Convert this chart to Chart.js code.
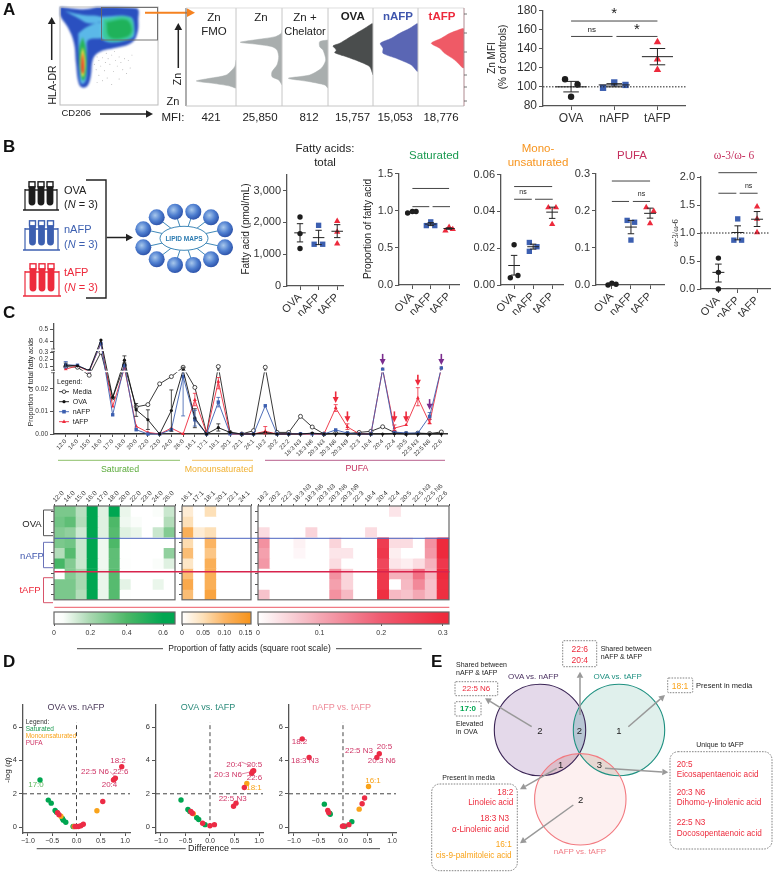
<!DOCTYPE html>
<html>
<head>
<meta charset="utf-8">
<title>Fatty acid figure</title>
<script src="https://cdn.jsdelivr.net/npm/chart.js@4"></script>
<style>
  html, body { margin: 0; background: #fff; }
  #page { position: relative; width: 774px; height: 874px; overflow: hidden; font-family: "Liberation Sans", sans-serif; }
  #page canvas { position: absolute; }
  #overlay { position: absolute; left: 0; top: 0; pointer-events: none; z-index: 10; }
</style>
</head>
<body>
<div id="page"><svg id="overlay" width="774" height="874"></svg></div>
<script>
// ---- data: panel A ----
const groups = ["OVA", "nAFP", "tAFP"];
const znFmoLevel = [17.7, 20, 22.7, 25, 27.7, 31, 39.3, 46];
const znFmoCount = [0.3, 6.3, 23, 39.7, 26.3, 9.7, 1.3, 0];
const znLevel = [21, 26, 29.3, 34.3, 41, 49.3, 56, 59.3, 61.7, 63.7, 66, 69.3, 72.7, 76];
const znCount = [0, 3.3, 10, 10, 5, 3.3, 5, 10, 25, 41.7, 28.3, 6.7, 0.7, 0];
const chelLevel = [17.7, 21, 24.3, 27.7, 31, 37.7, 46, 56, 59.3, 64.3, 66];
const chelCount = [0, 3.3, 18.3, 39.7, 18.3, 6.7, 2.3, 5, 8.3, 8.3, 0];
const ovaLevel = [31, 39.3, 44.3, 49.3, 53.3, 56, 60, 62.7, 67.7, 72.7, 77.7, 82.7];
const ovaCount = [0, 3.3, 13.3, 26.7, 38.3, 36.7, 40, 33.3, 25, 16.7, 8.3, 0.7];
const nafpLevel = [34.3, 41, 47.7, 52.7, 57.7, 62.7, 67.7, 72.7, 77.7, 82.7];
const nafpCount = [0.7, 6.7, 21.7, 35, 35, 37.7, 26.7, 18.3, 8.3, 0.7];
const tafpLevel = [37.7, 46, 52.7, 57.7, 62.7, 67.7, 72.7, 77.7];
const tafpCount = [1, 9.3, 19.3, 24.3, 32.7, 22.7, 14.3, 1];
const mfiLabels = ["421", "25,850", "812", "15,757", "15,053", "18,776"];

const flowBlue = [[0,98.3],[23.3,95.7],[40,98.3],[76.7,96.7],[78.3,85],[77.3,71.7],[71.7,62.3],[53.3,56.7],[40,53.3],[33.3,46.7],[30.7,28.3],[27.3,19],[21.7,17.7],[18.3,23.3],[16,41.7],[14,61.7],[8.3,76.7],[0,90]];
const flowCyanTop = [[5,94],[23.3,90],[40,88.3],[40,83.3],[28.3,81.7],[18.3,86.7]];
const flowCyanStem = [[18.3,71.7],[27.3,78.3],[41.7,81.7],[43.3,68.3],[28.3,65],[27,55],[27,38.3],[25.7,24.3],[22,21],[20,25],[18.7,51.7]];
const flowCyanBox = [[40,88.3],[70,88.3],[74.3,78.3],[71.7,66.7],[43.3,65]];
const flowTeal = [[43,86],[69,87.7],[73.7,76],[69,66.3],[45,65.7]];
const flowGreen = [[46.3,82.7],[66,85.3],[71.7,75],[66,68],[49.7,68]];
const flowStemGreen = [[22.7,68],[25.7,56.7],[26.3,33.7],[23.3,24.3],[20.3,32],[19.3,56.7]];
const flowYellow = [[22.7,58],[25,46.7],[24.7,33.7],[22.7,28],[20.8,35.3],[20.8,48.3]];
const flowRed = [[22.7,53],[23.7,43.3],[23.5,32],[22,32],[21.5,43.3]];
const flowSpeck = [[36,48],[38,44],[42,47],[45,42],[40,38],[35,34],[48,46],[52,50],[50,40],[44,33],[38,28],[56,44],[60,48],[58,38],[54,32],[47,25],[42,22],[36,20],[62,42],[66,46],[70,44],[64,34],[68,30],[60,24],[52,18],[74,50],[33,40],[46,52],[55,54],[72,36]];

const zincVals = [[108, 102.5, 89.6], [99, 104.6, 102], [146.8, 128.6, 117.7]];
const zincJit = [[-0.14, 0.15, 0], [-0.26, 0, 0.26], [0, 0, 0]];
const zincMean = [100, 102, 131.5];
const zincLow = [94.7, 100, 123];
const zincHigh = [105.7, 103.3, 140];
const zincBrackets = [[1, 3, 168.7, "*"], [1, 1.96, 152.6, "ns"], [2.05, 3, 152.6, "*"]];

// ---- data: panel B ----
const totalVals = [[2167, 1646, 1177], [1906, 1312, 1312], [2040, 1700, 1333]];
const totalJit = [[0, 0, 0], [0, -0.24, 0.22], [0, 0, 0]];
const totalMean = [1670, 1520, 1720];
const totalLow = [1385, 1300, 1520];
const totalHigh = [1958, 1750, 1927];

const satVals = [[0.97, 0.99, 0.99], [0.80, 0.85, 0.80], [0.73, 0.78, 0.75]];
const satJit = [[-0.26, 0, 0.2], [-0.24, 0, 0.22], [-0.2, 0, 0.2]];
const satMean = [0.98, 0.82, 0.76];
const satLow = [0.97, 0.80, 0.75];
const satHigh = [0.99, 0.84, 0.77];
const satBrackets = [[1, 3, 1.3, ""], [1, 1.92, 1.055, ""], [2.1, 3.05, 1.055, ""]];

const monoVals = [[0.0219, 0.0039, 0.0052], [0.0231, 0.0183, 0.0208], [0.0421, 0.0421, 0.033]];
const monoJit = [[0, -0.2, 0.2], [-0.2, -0.2, 0.2], [-0.2, 0.2, 0]];
const monoMean = [0.0106, 0.0208, 0.0396];
const monoLow = [0.0054, 0.0195, 0.0362];
const monoHigh = [0.0161, 0.0222, 0.0423];
const monoBrackets = [[1, 3, 0.0535, ""], [1, 1.93, 0.0466, "ns"], [2.1, 3.03, 0.0466, ""]];

const pufaVals = [[0, 0.005, 0.002], [0.174, 0.169, 0.121], [0.209, 0.199, 0.166]];
const pufaJit = [[-0.2, 0, 0.22], [-0.2, 0.19, 0], [-0.2, 0.19, 0]];
const pufaMean = [0.003, 0.156, 0.193];
const pufaLow = [0.001, 0.138, 0.18];
const pufaHigh = [0.005, 0.174, 0.207];
const pufaBrackets = [[1, 3, 0.28, ""], [1, 1.9, 0.225, ""], [2.1, 3, 0.225, "ns"]];

const omegaVals = [[0.552, 0.297, 0], [1.252, 0.872, 0.872], [1.472, 1.252, 1.009]];
const omegaJit = [[0, 0, 0], [0, -0.2, 0.2], [0, 0, 0]];
const omegaMean = [0.297, 1.009, 1.246];
const omegaLow = [0.125, 0.878, 1.116];
const omegaHigh = [0.445, 1.128, 1.383];
const omegaBrackets = [[1, 3, 2.077, ""], [1, 1.93, 1.71, ""], [2.1, 3.03, 1.71, "ns"]];

// ---- data: panel C ----
const satAcids = ["12:0","14:0","15:0","16:0","17:0","18:0","20:0","22:0","23:0","24:0","26:0"];
const monoAcids = ["16:1","17:1","18:1","20:1","22:1","24:1"];
const pufaAcids = ["18:2","20:2","22:2","18:3 N3","18:3 N6","20:3 N3","20:3 N6","20:3 N9","22:3","18:4","20:4","22:4","20:5","22:5 N3","22:5 N6","22:6"];
const allAcids = satAcids.concat(monoAcids, pufaAcids);
const mediaLine = [0.1,0.09,0.026,0.3,0.016,0.12,0.012,0.013,0.0222,0.0254,0.09, 0.0206,0.0005,0.1,0.0007,0,0.0015, 0.09,0.0007,0.0007,0.0078,0.0031,0,0.0004,0.0002,0.0007,0.0012,0.0032,0.0007,0.0002,0.0004,0.0002,0.0009];
const ovaLine = [0.12,0.11,0.044,0.41,0.0162,0.19,0.0107,0.0063,0,0.0104,0.05, 0.0071,0,0.0028,0.0007,0,0, 0.0007,0,0,0,0.0004,0,0.0001,0,0,0,0,0.0001,0,0,0,0];
const nafpLine = [0.123,0.118,0.04,0.38,0.0085,0.115,0.0019,0,0,0.0019,0.0254, 0.0063,0,0.0141,0.0001,0,0, 0.0125,0,0,0.0001,0.0001,0,0.0018,0.0004,0,0,0.062,0.0009,0.0004,0.0004,0.0078,0.08];
const tafpLine = [0.063,0.11,0.03,0.383,0.0122,0.077,0.0034,0.0007,0,0.0026,0, 0.0151,0.0004,0.0232,0,0,0, 0.0012,0,0,0,0,0,0.0115,0.0031,0.0001,0,0.062,0.0026,0.004,0.0159,0.0049,0.08];
const ovaErr = [[0,0.1,0.15],[5,0.15,0.25],[6,0.0078,0.0135],[7,0.002,0.0107],[9,0.0012,0.0195],[10,0.03,0.09],[11,0.0028,0.0112],[13,0.0013,0.0045]];
const nafpErr = [[0,0.08,0.17],[10,0.008,0.03],[11,0.0035,0.0105],[13,0.012,0.0162],[31,0.0065,0.0095]];
const tafpErr = [[11,0.0125,0.018],[13,0.02,0.025],[17,0,0.0033],[23,0.01,0.013],[24,0.002,0.0045],[28,0.0015,0.004],[30,0.0125,0.0205],[31,0.0045,0.0065]];
const lineTicks = [0, 0.01, 0.02, 0.1, 0.2, 0.3, 0.4, 0.5];
// [acid index, tail value on the drawn axis, head value on the drawn axis]
const redArrows = [[23, 128, 93], [24, 68, 35], [28, 68, 35], [29, 68, 35], [30, 178, 145]];
const purpleArrows = [[27, 241, 208], [31, 105, 73], [32, 241, 208]];

// ---- data: heatmaps, one row per sample ----
const satHeat = [
  [0.30,0.30,0.17,0.64,0.10,0.62,0.08,0,0,0.05,0.14],
  [0.32,0.36,0.18,0.64,0.10,0.40,0.07,0.05,0,0,0.18],
  [0.28,0.25,0.13,0.64,0.10,0.38,0.10,0.08,0,0.14,0.28],
  [0.30,0.32,0.14,0.64,0.07,0.40,0.01,0,0,0,0],
  [0.18,0.38,0.14,0.64,0.07,0.36,0.01,0,0,0,0.25],
  [0.42,0.28,0.14,0.64,0.07,0.36,0.02,0,0,0.05,0.10],
  [0,0.28,0.20,0.64,0.08,0.38,0.01,0,0,0,0],
  [0.30,0.30,0.20,0.64,0.08,0.38,0.09,0,0,0.08,0],
  [0.30,0.30,0.18,0.64,0.08,0.38,0.02,0,0,0,0]
];
const monoHeat = [
  [0.03,0,0.05,0,0,0],
  [0.05,0,0,0,0,0],
  [0.11,0.03,0.05,0,0,0],
  [0.055,0,0.10,0,0,0],
  [0.09,0,0.08,0,0,0],
  [0.04,0,0.11,0,0,0],
  [0.09,0,0.11,0,0,0],
  [0.12,0,0.11,0,0,0],
  [0.09,0,0.13,0,0,0]
];
const pufaHeat = [
  [0,0,0,0,0,0,0,0,0,0,0,0.03,0,0,0,0],
  [0,0,0,0,0,0,0,0,0,0,0,0,0,0,0,0],
  [0.04,0,0,0,0.05,0,0,0,0,0.04,0,0,0,0,0,0],
  [0.13,0,0,0.015,0,0,0.05,0,0,0,0.26,0.04,0.04,0,0.13,0.30],
  [0.11,0,0,0.01,0,0,0.03,0.03,0,0,0.27,0.02,0,0,0.12,0.30],
  [0.12,0,0,0,0,0,0.04,0,0,0,0.24,0.03,0.02,0.04,0.09,0.27],
  [0,0,0,0,0,0,0.13,0.05,0,0,0.27,0.09,0.09,0.17,0.08,0.31],
  [0,0,0,0,0,0,0.11,0.05,0,0,0.27,0,0.08,0.14,0.07,0.29],
  [0.07,0,0,0,0,0,0.13,0.08,0,0,0.29,0.08,0.07,0.10,0.07,0.29]
];
const satStops = [[0, 255,255,255], [0.05, 250,253,250], [0.2, 168,216,176], [0.4, 77,184,104], [0.6, 0,166,81]];
const monoStops = [[0, 255,255,255], [0.05, 253,224,184], [0.1, 251,180,99], [0.16, 247,148,29]];
const pufaStops = [[0, 255,255,255], [0.1, 244,168,180], [0.2, 239,90,112], [0.3, 238,42,60]];

// ---- data: panel D ----
const v1GreenX = [-0.75,-0.58,-0.52,-0.44,-0.41,-0.29,-0.27,-0.22,-0.07];
const v1GreenY = [2.83,1.62,1.44,1.0,0.9,0.52,0.42,0.29,0.04];
const v1OrangeX = [0.42,-0.32,-0.05];
const v1OrangeY = [0.98,0.65,0.04];
const v1RedX = [0.93,0.8,0.76,0.78,0.54,-0.39,-0.36,0,0.04,0.09,0.14,-0.03];
const v1RedY = [3.62,2.94,2.83,2.88,1.54,0.87,0.75,0.04,0.04,0.08,0.17,0.04];
const v2GreenX = [-0.59,-0.45,-0.41,-0.27,-0.23,-0.1];
const v2GreenY = [1.63,1.06,0.94,0.56,0.46,0.15];
const v2OrangeX = [-0.34,0.75];
const v2OrangeY = [0.81,2.62];
const v2RedX = [-0.39,-0.36,-0.15,0,0.09,0.48,0.53,0.7,0.85,0.87,0.89];
const v2RedY = [0.94,0.83,0.23,0.08,0.15,1.25,1.44,2.38,3.23,3.35,3.38];
const v3GreenX = [-0.38,-0.27,-0.26,0.18,0.04];
const v3GreenY = [1.38,0.83,0.77,0.33,0.06];
const v3OrangeX = [0.33,0.52];
const v3OrangeY = [1.08,2.44];
const v3RedX = [-0.83,-0.69,-0.31,-0.29,0.44,0.39,0.69,0.74,0.12,0.02,-0.01];
const v3RedY = [5.29,4.17,1.0,0.87,1.75,1.4,4.17,4.4,0.15,0.06,0.06];

const BLACK = "#1d1d1d", BLUE = "#3c5fb0", RED = "#ed2a3c", GREEN = "#00a651", ORANGE = "#f9a31a", PINK = "#cf3566", AXIS = "#555";

Chart.defaults.font.family = '"Liberation Sans", sans-serif';
Chart.defaults.color = "#333";
Chart.defaults.animation = false;
Chart.defaults.responsive = false;
Chart.defaults.plugins.legend.display = false;
Chart.defaults.plugins.tooltip.enabled = false;

const page = document.getElementById("page");

// canvas big enough for the plot box plus margins, chart area pinned to the box
function makeChart(box, m, config) {
  const c = document.createElement("canvas");
  const w = box[2] - box[0] + m.l + m.r, h = box[3] - box[1] + m.t + m.b;
  c.width = w; c.height = h;
  c.style.left = (box[0] - m.l) + "px";
  c.style.top = (box[1] - m.t) + "px";
  page.appendChild(c);
  config.options = config.options || {};
  config.options.devicePixelRatio = 1;
  config.options.layout = { padding: { top: m.topAxis ? 0 : m.t, right: m.r, left: 0, bottom: 0 } };
  const sc = config.options.scales;
  sc.x.afterFit = s => { s.height = m.topAxis ? m.t : m.b; };
  sc.y.afterFit = s => { s.width = m.l; };
  return { canvas: c, chart: new Chart(c, config) };
}

function axisX(min, max, tickVals, fmt, size, rot, extra) {
  return Object.assign({
    type: "linear", min: min, max: max,
    border: { color: AXIS, width: 1.3 },
    grid: { drawOnChartArea: false, color: AXIS, tickLength: 4 },
    afterBuildTicks: a => { a.ticks = tickVals.map(v => ({ value: v })); },
    ticks: { autoSkip: false, minRotation: rot, maxRotation: rot, padding: 1, font: { size: size }, callback: fmt }
  }, extra || {});
}
function axisY(min, max, tickVals, fmt, size) {
  return {
    type: "linear", min: min, max: max,
    border: { color: AXIS, width: 1.3 },
    grid: { drawOnChartArea: false, color: AXIS, tickLength: 4 },
    afterBuildTicks: a => { a.ticks = tickVals.map(v => ({ value: v })); },
    ticks: { autoSkip: false, padding: 2, font: { size: size }, callback: fmt }
  };
}

// mean +/- SEM, significance brackets and dotted reference
function statsPlugin(mean, low, high, brackets, refY, halfMean, halfCap, sizes) {
  return {
    id: "stats",
    afterDatasetsDraw(chart) {
      const { ctx, scales: { x, y }, chartArea: a } = chart;
      ctx.save();
      ctx.strokeStyle = "#222"; ctx.fillStyle = "#222"; ctx.lineWidth = 1;
      if (refY !== null) {
        ctx.setLineDash([1.5, 1.5]);
        ctx.beginPath(); ctx.moveTo(a.left, y.getPixelForValue(refY)); ctx.lineTo(a.right, y.getPixelForValue(refY)); ctx.stroke();
        ctx.setLineDash([]);
      }
      mean.forEach((m, i) => {
        const dx = i + 1;
        const seg = (x1, v1, x2, v2) => {
          ctx.beginPath();
          ctx.moveTo(x.getPixelForValue(x1), y.getPixelForValue(v1));
          ctx.lineTo(x.getPixelForValue(x2), y.getPixelForValue(v2));
          ctx.stroke();
        };
        seg(dx - halfMean, m, dx + halfMean, m);
        seg(dx, low[i], dx, high[i]);
        seg(dx - halfCap, low[i], dx + halfCap, low[i]);
        seg(dx - halfCap, high[i], dx + halfCap, high[i]);
      });
      ctx.strokeStyle = "#444";
      ctx.textAlign = "center";
      (brackets || []).forEach(b => {
        const py = y.getPixelForValue(b[2]), x1 = x.getPixelForValue(b[0]), x2 = x.getPixelForValue(b[1]);
        ctx.beginPath(); ctx.moveTo(x1, py); ctx.lineTo(x2, py); ctx.stroke();
        if (b[3] === "ns") {
          ctx.font = sizes.ns + 'px "Liberation Sans"';
          ctx.textBaseline = "middle";
          ctx.fillText("ns", (x1 + x2) / 2, py - 7);
        } else if (b[3] === "*") {
          ctx.font = sizes.star + 'px "Liberation Sans"';
          ctx.textBaseline = "middle";
          ctx.fillText("*", (x1 + x2) / 2, py - 7);
        }
      });
      ctx.restore();
    }
  };
}

function dotPlot(box, m, xr, yr, yTicks, yFmt, vals, jit, mean, low, high, brackets, refY, o) {
  const styles = [["circle", BLACK, o.r], ["rect", BLUE, o.r * 1.4], ["triangle", RED, o.r * 1.35]];
  const datasets = vals.map((g, i) => ({
    data: g.map((v, j) => ({ x: i + 1 + jit[i][j], y: v })),
    pointStyle: styles[i][0], pointBackgroundColor: styles[i][1], pointBorderColor: styles[i][1],
    pointRadius: styles[i][2], pointBorderWidth: 0, showLine: false, clip: false
  }));
  makeChart(box, m, {
    type: "scatter",
    data: { datasets: datasets },
    options: {
      scales: {
        x: axisX(xr[0], xr[1], [1, 2, 3], v => groups[v - 1], o.xSize, o.rot),
        y: axisY(yr[0], yr[1], yTicks, yFmt, o.ySize)
      }
    },
    plugins: [statsPlugin(mean, low, high, brackets, refY, o.hm, o.hc, { ns: o.ns, star: 15 })]
  });
}

// ---- panel A histograms ----
function histogram(box, levels, counts, color) {
  makeChart(box, { l: 0, r: 0, t: 0, b: 0 }, {
    type: "line",
    data: { datasets: [{
      data: levels.map((v, i) => ({ x: counts[i], y: v })),
      borderColor: color, backgroundColor: color, borderWidth: 0.5, pointRadius: 0, fill: "origin", tension: 0.25
    }] },
    options: {
      indexAxis: "y",
      scales: {
        x: { type: "linear", reverse: true, min: 0, max: box[2] - box[0], display: false },
        y: { type: "linear", min: 0, max: 98, display: false }
      }
    }
  });
}
histogram([186, 8, 236, 106], znFmoLevel, znFmoCount, "#a9aeae");
histogram([236, 8, 282, 106], znLevel, znCount, "#a9aeae");
histogram([282, 8, 328, 106], chelLevel, chelCount, "#a9aeae");
histogram([328, 8, 373, 106], ovaLevel, ovaCount, "#4a4d4d");
histogram([373, 8, 418, 106], nafpLevel, nafpCount, "#5a66b4");
histogram([418, 8, 464, 106], tafpLevel, tafpCount, "#ef5a66");

// flow plot: density contours as filled shapes
function blob(points, color) {
  return { data: points.map(p => ({ x: p[0], y: p[1] })), showLine: true, fill: "shape", tension: 0.4,
    borderColor: color, backgroundColor: color, borderWidth: 0, pointRadius: 0 };
}
// close each contour so the fill and the smoothing meet up
function closed(points) { return points.concat([points[0]]); }
const flowScales = () => ({
  x: { type: "linear", min: 0, max: 98, display: false },
  y: { type: "linear", min: 0, max: 98, display: false }
});
makeChart([60, 7, 158, 105], { l: 0, r: 0, t: 0, b: 0 }, {
  type: "scatter",
  data: { datasets: [{ data: flowSpeck.map(p => ({ x: p[0], y: p[1] })), pointRadius: 0.45, pointBackgroundColor: "#888", pointBorderWidth: 0, showLine: false }] },
  options: { scales: flowScales() }
});
const flow = makeChart([60, 7, 158, 105], { l: 0, r: 0, t: 0, b: 0 }, {
  type: "scatter",
  data: { datasets: [
    blob(closed(flowRed), "#e8262a"),
    blob(closed(flowYellow), "#f5e642"),
    blob(closed(flowStemGreen), "#27b45a"),
    blob(closed(flowGreen), "#1fb25a"),
    blob(closed(flowTeal), "#3cc99a"),
    blob(closed(flowCyanBox), "#5bc4e8"),
    blob(closed(flowCyanStem), "#5bb8e8"),
    blob(closed(flowCyanTop), "#5bb8e8"),
    blob(closed(flowBlue), "#2a50c0")
  ] },
  options: { scales: flowScales() }
});
flow.canvas.style.filter = "blur(1.2px)";

// ---- dot plots ----
dotPlot([542.7, 9.3, 686, 106.7], { l: 32, r: 4, t: 8, b: 22 }, [0.35, 3.65], [80, 180], [80, 100, 120, 140, 160, 180], v => v,
  zincVals, zincJit, zincMean, zincLow, zincHigh, zincBrackets, 100,
  { r: 3.2, xSize: 12, ySize: 12, rot: 0, hm: 0.36, hc: 0.18, ns: 8 });
dotPlot([287.3, 174, 347, 286], { l: 38, r: 2, t: 8, b: 30 }, [0.3, 3.35], [0, 3500], [0, 1000, 2000, 3000],
  v => v === 0 ? "0" : v.toLocaleString("en-US"),
  totalVals, totalJit, totalMean, totalLow, totalHigh, [], null,
  { r: 2.7, xSize: 11, ySize: 11, rot: 45, hm: 0.31, hc: 0.17, ns: 7 });
dotPlot([399.3, 173.3, 462, 285.7], { l: 22, r: 2, t: 8, b: 30 }, [0.27, 3.54], [0, 1.5], [0, 0.5, 1, 1.5], v => v.toFixed(1),
  satVals, satJit, satMean, satLow, satHigh, satBrackets, null,
  { r: 2.7, xSize: 11, ySize: 11, rot: 45, hm: 0.31, hc: 0.17, ns: 7 });
dotPlot([500.7, 174, 565, 285.7], { l: 30, r: 2, t: 8, b: 30 }, [0.31, 3.57], [0, 0.06], [0, 0.02, 0.04, 0.06], v => v.toFixed(2),
  monoVals, monoJit, monoMean, monoLow, monoHigh, monoBrackets, null,
  { r: 2.7, xSize: 11, ySize: 11, rot: 45, hm: 0.31, hc: 0.17, ns: 7 });
dotPlot([596, 173.3, 666, 285.7], { l: 24, r: 2, t: 8, b: 30 }, [0.17, 3.73], [0, 0.3], [0, 0.1, 0.2, 0.3], v => v.toFixed(1),
  pufaVals, pufaJit, pufaMean, pufaLow, pufaHigh, pufaBrackets, null,
  { r: 2.7, xSize: 11, ySize: 11, rot: 45, hm: 0.31, hc: 0.17, ns: 7 });
dotPlot([700.7, 177, 771, 289.3], { l: 22, r: 3, t: 10, b: 28 }, [0.1, 3.67], [0, 2], [0, 0.5, 1, 1.5, 2], v => v.toFixed(1),
  omegaVals, omegaJit, omegaMean, omegaLow, omegaHigh, omegaBrackets, 1,
  { r: 2.7, xSize: 11, ySize: 11, rot: 45, hm: 0.31, hc: 0.17, ns: 7 });

// ---- panel C line chart, broken y axis ----
function brokenY(v) {
  if (v <= 0.0276) return v * 6800;
  if (v <= 0.33) return 403 - (221.4 - 214 * v);
  return 403 - (124 - (v - 0.4) * 350);
}
const lineDataset = (vals, color, style, radius, open) => ({
  data: vals.map((v, i) => ({ x: i, y: brokenY(v) })),
  showLine: true, borderColor: color, borderWidth: 0.9, pointStyle: style, pointRadius: radius,
  pointBackgroundColor: open ? "#fff" : color, pointBorderColor: color, pointBorderWidth: open ? 0.8 : 0, clip: false
});
const lineExtras = {
  id: "lineExtras",
  afterDatasetsDraw(chart) {
    const { ctx, scales: { x, y }, chartArea: a } = chart;
    ctx.save();
    ctx.lineWidth = 0.8;
    [[ovaErr, "#222"], [nafpErr, BLUE], [tafpErr, RED]].forEach(s => {
      ctx.strokeStyle = s[1];
      s[0].forEach(e => {
        const px = x.getPixelForValue(e[0]), p1 = y.getPixelForValue(brokenY(e[1])), p2 = y.getPixelForValue(brokenY(e[2]));
        ctx.beginPath();
        ctx.moveTo(px, p1); ctx.lineTo(px, p2);
        ctx.moveTo(px - 2, p1); ctx.lineTo(px + 2, p1);
        ctx.moveTo(px - 2, p2); ctx.lineTo(px + 2, p2);
        ctx.stroke();
      });
    });
    // breaks of the y axis
    [brokenY(0.03), brokenY(0.33)].forEach(b => {
      const py = y.getPixelForValue(b);
      ctx.fillStyle = "#fff";
      ctx.fillRect(a.left - 3, py - 0.8, a.right - a.left + 3, 1.6);
      ctx.strokeStyle = AXIS;
      ctx.beginPath();
      ctx.moveTo(a.left - 3, py - 1.2); ctx.lineTo(a.left + 1, py - 1.2);
      ctx.moveTo(a.left - 3, py + 1.2); ctx.lineTo(a.left + 1, py + 1.2);
      ctx.stroke();
    });
    // arrows marking the fatty acids of interest
    [[redArrows, RED], [purpleArrows, "#7b2d8e"]].forEach(s => {
      ctx.strokeStyle = s[1]; ctx.fillStyle = s[1]; ctx.lineWidth = 1.6;
      s[0].forEach(r => {
        const px = x.getPixelForValue(r[0]), p1 = y.getPixelForValue(r[1]), p2 = y.getPixelForValue(r[2]);
        ctx.beginPath(); ctx.moveTo(px, p1); ctx.lineTo(px, p2 - 4); ctx.stroke();
        ctx.beginPath(); ctx.moveTo(px - 3, p2 - 6); ctx.lineTo(px + 3, p2 - 6); ctx.lineTo(px, p2); ctx.closePath(); ctx.fill();
      });
    });
    ctx.restore();
  }
};
makeChart([54.3, 324, 450.7, 434.3], { l: 26, r: 2, t: 6, b: 24 }, {
  type: "scatter",
  data: { datasets: [
    lineDataset(ovaLine, "#111", "circle", 1.6, false),
    lineDataset(nafpLine, BLUE, "rect", 2.4, false),
    lineDataset(tafpLine, RED, "triangle", 2.2, false),
    lineDataset(mediaLine, "#222", "circle", 2, true)
  ] },
  options: { scales: {
    x: axisX(-1, 32.5, allAcids.map((a, i) => i), v => allAcids[v], 6, 45,
      { grid: { drawOnChartArea: false, color: AXIS, tickLength: 3 }, border: { color: "#333", width: 1.5 } }),
    y: axisY(0, 331, lineTicks.map(brokenY), (v, i) => lineTicks[i] === 0 ? "0.00" : lineTicks[i] < 0.05 ? lineTicks[i].toFixed(2) : lineTicks[i].toFixed(1), 6.5)
  } },
  plugins: [lineExtras]
});

// ---- heatmaps ----
function colorAt(stops, v) {
  for (let i = 1; i < stops.length; i++) {
    if (v <= stops[i][0]) {
      const a = stops[i - 1], b = stops[i], t = (v - a[0]) / (b[0] - a[0]);
      return "rgb(" + [1, 2, 3].map(k => Math.round(a[k] + (b[k] - a[k]) * t)).join(",") + ")";
    }
  }
  const e = stops[stops.length - 1];
  return "rgb(" + e[1] + "," + e[2] + "," + e[3] + ")";
}
const frameBox = { id: "frameBox", afterDraw(chart) {
  const { ctx, chartArea: a } = chart;
  ctx.save(); ctx.strokeStyle = "#666"; ctx.lineWidth = 1.2;
  ctx.strokeRect(a.left, a.top, a.right - a.left, a.bottom - a.top);
  ctx.restore();
} };
function heatmap(box, acids, rows, stops) {
  makeChart(box, { l: 5, r: 4, t: 26, b: 0, topAxis: true }, {
    type: "bar",
    data: {
      labels: acids,
      datasets: rows.map(row => ({
        data: acids.map(() => 1),
        backgroundColor: row.map(v => colorAt(stops, v)),
        barPercentage: 1, categoryPercentage: 1, borderWidth: 0, stack: "s"
      }))
    },
    options: { scales: {
      x: { type: "category", position: "top", stacked: true, border: { display: false },
        grid: { drawOnChartArea: false, color: AXIS, tickLength: 2 },
        ticks: { autoSkip: false, minRotation: 45, maxRotation: 45, padding: 0, font: { size: 6.5 } } },
      y: { type: "linear", stacked: true, reverse: true, min: 0, max: 9, border: { display: false },
        grid: { drawOnChartArea: false, color: AXIS, tickLength: 3 },
        afterBuildTicks: a => { a.ticks = [0.5, 1.5, 2.5, 3.5, 4.5, 5.5, 6.5, 7.5, 8.5].map(v => ({ value: v })); },
        ticks: { callback: () => "", padding: 0, autoSkip: false } }
    } },
    plugins: [frameBox]
  });
}
heatmap([54.3, 505.7, 175.3, 607], satAcids, satHeat, satStops);
heatmap([181.7, 505.7, 250.7, 607], monoAcids, monoHeat, monoStops);
heatmap([258, 505.7, 449.3, 607], pufaAcids, pufaHeat, pufaStops);

function colorbar(box, max, tickVals, fmt, stops) {
  makeChart(box, { l: 6, r: 6, t: 2, b: 14 }, {
    type: "scatter",
    data: { datasets: [] },
    options: { scales: {
      x: { type: "linear", min: 0, max: max, border: { display: false },
        grid: { drawOnChartArea: false, color: AXIS, tickLength: 2 },
        afterBuildTicks: a => { a.ticks = tickVals.map(v => ({ value: v })); },
        ticks: { autoSkip: false, maxRotation: 0, padding: 3, font: { size: 7 }, callback: fmt } },
      y: { type: "linear", min: 0, max: 1, display: false }
    } },
    plugins: [{ id: "ramp", beforeDatasetsDraw(chart) {
      const { ctx, chartArea: a, scales: { x } } = chart;
      const g = ctx.createLinearGradient(a.left, 0, a.right, 0);
      const n = 40;
      for (let i = 0; i <= n; i++) g.addColorStop(i / n, colorAt(stops, x.getValueForPixel(a.left + (a.right - a.left) * i / n)));
      ctx.save(); ctx.fillStyle = g; ctx.fillRect(a.left, a.top, a.right - a.left, a.bottom - a.top); ctx.restore();
    } }, frameBox]
  });
}
colorbar([54.3, 612.3, 175.3, 624.3], 0.666, [0, 0.2, 0.4, 0.6], v => v === 0 ? "0" : v.toFixed(1), satStops);
colorbar([181.7, 612.3, 250.7, 624.3], 0.163, [0, 0.05, 0.1, 0.15], v => v === 0 ? "0" : v.toFixed(2), monoStops);
colorbar([258, 612.3, 449.3, 624.3], 0.31, [0, 0.1, 0.2, 0.3], v => v === 0 ? "0" : v.toFixed(1), pufaStops);

// ---- panel D volcano plots ----
function volcano(box, xMax, gx, gy, ox, oy, rx, ry) {
  const pts = (xs, ys, color) => ({
    data: xs.map((v, i) => ({ x: v, y: ys[i] })), showLine: false, pointRadius: 2.7,
    pointBackgroundColor: color, pointBorderWidth: 0
  });
  const dash = d => ({ data: d, showLine: true, borderColor: "#444", borderWidth: 1, borderDash: [4, 3], pointRadius: 0 });
  makeChart(box, { l: 12, r: 4, t: 2, b: 14 }, {
    type: "scatter",
    data: { datasets: [
      pts(rx, ry, "#ec2b45"), pts(ox, oy, ORANGE), pts(gx, gy, GREEN),
      dash([{ x: -1.1, y: 2 }, { x: xMax, y: 2 }]),
      dash([{ x: 0, y: 0 }, { x: 0, y: 6.3 }])
    ] },
    options: { scales: {
      x: axisX(-1.1, xMax, [-1, -0.5, 0, 0.5, 1], v => v.toFixed(1).replace("-", "\u2212"), 7, 0,
        { grid: { drawOnChartArea: false, color: AXIS, tickLength: 3 } }),
      y: axisY(-0.35, 7.35, [0, 2, 4, 6], v => v, 7.5)
    } }
  });
}
volcano([22.7, 700, 130.7, 833.3], 1.1, v1GreenX, v1GreenY, v1OrangeX, v1OrangeY, v1RedX, v1RedY);
volcano([156, 700, 263.3, 833.3], 1.08, v2GreenX, v2GreenY, v2OrangeX, v2OrangeY, v2RedX, v2RedY);
volcano([289, 700, 396.7, 833.3], 1.08, v3GreenX, v3GreenY, v3OrangeX, v3OrangeY, v3RedX, v3RedY);

// ---- everything that is not a data mark: text, icons, Venn ----
const parts = [];
function txt(x, y, s, size, color, o) {
  o = o || {};
  const rot = o.rot ? ' transform="rotate(' + o.rot + " " + x + " " + y + ')"' : "";
  parts.push('<text x="' + x + '" y="' + y + '" font-size="' + size + '" fill="' + (color || "#222") +
    '" text-anchor="' + (o.a || "middle") + '" dominant-baseline="central" font-weight="' + (o.w || "normal") +
    '" font-style="' + (o.i || "normal") + '" font-family="' + (o.f || "Liberation Sans") + '"' + rot + ">" + s + "</text>");
}
function ln(x1, y1, x2, y2, c, w, dash) {
  parts.push('<line x1="' + x1 + '" y1="' + y1 + '" x2="' + x2 + '" y2="' + y2 + '" stroke="' + c + '" stroke-width="' + (w || 1) + '"' + (dash ? ' stroke-dasharray="' + dash + '"' : "") + "/>");
}
function arrow(x1, y1, x2, y2, c, w, head) {
  const a = Math.atan2(y2 - y1, x2 - x1), h = head || 6;
  const bx = x2 - Math.cos(a) * h, by = y2 - Math.sin(a) * h;
  ln(x1, y1, bx, by, c, w);
  const px = -Math.sin(a) * h * 0.55, py = Math.cos(a) * h * 0.55;
  parts.push('<polygon points="' + x2 + "," + y2 + " " + (bx + px) + "," + (by + py) + " " + (bx - px) + "," + (by - py) + '" fill="' + c + '"/>');
}
function bracket(x1, x2, y1, y2, c, w) {
  parts.push('<polyline points="' + x2 + "," + y1 + " " + x1 + "," + y1 + " " + x1 + "," + y2 + " " + x2 + "," + y2 + '" fill="none" stroke="' + c + '" stroke-width="' + (w || 1) + '"/>');
}
function dashedBox(x1, y1, x2, y2, r) {
  parts.push('<rect x="' + x1 + '" y="' + y1 + '" width="' + (x2 - x1) + '" height="' + (y2 - y1) + '" rx="' + (r || 1) + '" fill="none" stroke="#666" stroke-width="0.8" stroke-dasharray="1.6,1.2"/>');
}

// panel letters
[["A", 3, 9], ["B", 3, 146], ["C", 3, 312], ["D", 3, 661], ["E", 431, 661]].forEach(p => txt(p[1], p[2], p[0], 17, "#111", { a: "start", w: "bold" }));

// panel A
parts.push('<rect x="60" y="7" width="98" height="98" fill="none" stroke="#bbb" stroke-width="1"/>');
parts.push('<rect x="101.5" y="7.5" width="56" height="32.5" fill="none" stroke="#666" stroke-width="0.9"/>');
arrow(145, 12.7, 195, 12.7, "#f58220", 2, 8);
arrow(51.7, 60, 51.7, 17, "#222", 1.5, 7);
txt(52, 85, "HLA-DR", 10.5, "#222", { rot: -90 });
txt(61.5, 112, "CD206", 9.5, "#222", { a: "start" });
arrow(100, 114, 153, 114, "#222", 1.5, 7);
arrow(178.3, 68, 178.3, 23, "#222", 1.5, 7);
txt(176.7, 79, "Zn", 10.5, "#222", { rot: -90 });
txt(173, 101, "Zn", 11, "#222");
txt(173, 117, "MFI:", 11.5, "#222");
[186, 236, 282, 328, 373, 418].forEach((x, i) => ln(x, 8, x, 106, i === 0 ? "#777" : "#c6c6c6", i === 0 ? 1.2 : 1));
ln(186, 8, 464, 8, "#d0d0d0", 0.7);
ln(186, 106, 464, 106, "#c6c6c6", 1);
ln(464, 8, 464, 106, "#b08a90", 1);
[14, 33, 52, 75, 87, 101].forEach(y => ln(464, y, 467, y, "#555", 0.8));
txt(214, 16.7, "Zn", 11.5); txt(214, 30.7, "FMO", 11.5);
txt(261, 16.7, "Zn", 11.5);
txt(305, 16.7, "Zn +", 11.5); txt(305, 30.7, "Chelator", 11);
txt(352.7, 16, "OVA", 11.5, "#222", { w: "bold" });
txt(398, 16, "nAFP", 11.5, "#3f56ad", { w: "bold" });
txt(442, 16, "tAFP", 11.5, "#ed2a3c", { w: "bold" });
[211, 260, 309, 352.7, 395, 441].forEach((x, i) => txt(x, 116.7, mfiLabels[i], 11.5));
txt(491.7, 58, "Zn MFI", 10, "#222", { rot: -90 });
txt(502.7, 57, "(% of controls)", 10, "#222", { rot: -90 });

// panel B: tube racks
function rack(x, y, w, h, c) {
  ln(x, y + h, x + w, y + h, c, 1.6);
  ln(x + 2, y + 8, x + 2, y + h, c, 1.2);
  ln(x + w - 2, y + 8, x + w - 2, y + h, c, 1.2);
  ln(x + 2, y + 9, x + w - 2, y + 9, c, 1.4);
  for (let i = 0; i < 3; i++) {
    const tx = x + w / 2 - 9 + i * 9;
    parts.push('<path d="M' + (tx - 3.4) + "," + (y + 5) + " V" + (y + h - 8) + " a3.4,3.4 0 0 0 6.8,0 V" + (y + 5) + ' Z" fill="' + c + '"/>');
    parts.push('<rect x="' + (tx - 3) + '" y="' + (y + 0.8) + '" width="6" height="5" fill="#fff" stroke="' + c + '" stroke-width="1.4"/>');
  }
}
rack(23, 181, 36, 29, "#1d1d1d");
rack(23, 220, 37, 30, BLUE);
rack(23, 263, 38, 33, "#ed2a3c");
txt(64, 190, "OVA", 11, "#222", { a: "start" });
txt(64, 204, '(<tspan font-style="italic">N</tspan> = 3)', 11, "#222", { a: "start" });
txt(64, 229, "nAFP", 11, BLUE, { a: "start" });
txt(64, 244, '(<tspan font-style="italic">N</tspan> = 3)', 11, BLUE, { a: "start" });
txt(64, 272, "tAFP", 11, "#ed2a3c", { a: "start" });
txt(64, 287, '(<tspan font-style="italic">N</tspan> = 3)', 11, "#ed2a3c", { a: "start" });
parts.push('<polyline points="86,180 106,180 106,298 86,298" fill="none" stroke="#222" stroke-width="1.4"/>');
arrow(106.7, 237.5, 133, 237.5, "#222", 1.5, 7);
const balls = [[175,211.7],[193.3,211.7],[156.7,217.3],[211,217.3],[143.3,229.3],[225,229.3],[143.3,247.3],[225,247.3],[156.7,259.3],[211,259.3],[175,265],[193.3,265]];
balls.forEach(b => ln(b[0], b[1], 184 + (b[0] - 184) * 0.35, 238.3 + (b[1] - 238.3) * 0.35, "#2a7ab0", 0.9));
balls.forEach(b => parts.push('<circle cx="' + b[0] + '" cy="' + b[1] + '" r="8" fill="url(#ball)"/>'));
parts.push('<ellipse cx="184" cy="238.3" rx="24" ry="12" fill="#fff" stroke="#2a7ab0" stroke-width="0.9"/>');
txt(184, 238.5, "LIPID MAPS", 6.5, "#2a7ab0", { w: "bold" });
txt(325, 148, "Fatty acids:", 11.5); txt(325, 162, "total", 11.5);
txt(434, 155, "Saturated", 11.5, "#1a9a50");
txt(538, 148, "Mono-", 11.5, "#f7941d"); txt(538, 162, "unsaturated", 11.5, "#f7941d");
txt(632, 155, "PUFA", 11.5, "#c5305e");
txt(734, 155, "\u03c9-3/\u03c9- 6", 11.5, "#c5305e", { f: "Liberation Serif" });
txt(245, 229, "Fatty acid (pmol/mL)", 10, "#222", { rot: -90 });
txt(367, 229, "Proportion of fatty acid", 10, "#222", { rot: -90 });
txt(675, 233, "\u03c9-3/\u03c9-6", 8.5, "#222", { rot: -90, f: "Liberation Serif" });

// panel C
txt(30, 382, "Proportion of total fatty acids", 7, "#222", { rot: -90 });
txt(57, 381.7, "Legend:", 7, "#222", { a: "start" });
const legendRows = [["Media", "#222", 391.7], ["OVA", "#111", 401.7], ["nAFP", BLUE, 411.7], ["tAFP", RED, 421.7]];
legendRows.forEach((r, i) => {
  ln(59, r[2], 69, r[2], r[1], 0.9);
  if (i === 0) parts.push('<circle cx="64" cy="' + r[2] + '" r="1.8" fill="#fff" stroke="#222" stroke-width="0.8"/>');
  if (i === 1) parts.push('<circle cx="64" cy="' + r[2] + '" r="1.6" fill="#111"/>');
  if (i === 2) parts.push('<rect x="62.2" y="' + (r[2] - 1.8) + '" width="3.6" height="3.6" fill="' + BLUE + '"/>');
  if (i === 3) parts.push('<polygon points="64,' + (r[2] - 2.2) + " 66,"+ (r[2] + 1.2) + " 62," + (r[2] + 1.2) + '" fill="' + RED + '"/>');
  txt(72.7, r[2], r[0], 7, "#222", { a: "start" });
});
ln(58, 460.3, 180, 460.3, "#8cc068", 1);
ln(192, 460.3, 253, 460.3, "#f0c060", 1);
ln(265, 460.3, 445, 460.3, "#b8608c", 1);
txt(120, 468.5, "Saturated", 8.8, "#5aaa3a");
txt(219, 468.5, "Monounsaturated", 8.8, "#f0b030");
txt(357, 468, "PUFA", 8.8, "#c5305e");

// heatmap annotations
ln(54.3, 538.3, 449.3, 538.3, "#4a63c0", 1);
ln(54.3, 571.7, 449.3, 571.7, "#d8234c", 1.4);
ln(54.3, 607.3, 449.3, 607.3, "#f07a84", 1.2);
bracket(43.5, 53, 510, 535.7, "#555", 1);
bracket(43.5, 53, 542.3, 567.7, "#6a72b8", 1);
bracket(43.5, 53, 577.7, 602.7, "#d8546a", 1);
txt(32, 523.5, "OVA", 9.5, "#222");
txt(32, 555, "nAFP", 9.5, "#3f56ad");
txt(30, 589.5, "tAFP", 9.5, "#ed2a3c");
ln(77, 648.7, 163, 648.7, "#444", 1);
ln(336, 648.7, 421.7, 648.7, "#444", 1);
txt(249.5, 648.3, "Proportion of fatty acids (square root scale)", 8.5, "#222");

// panel D
txt(76, 707, "OVA vs. nAFP", 9, "#4a3a5a");
txt(208, 707, "OVA vs. tAFP", 9, "#2a8a7a");
txt(341.7, 707, "nAFP vs. tAFP", 9, "#ee8a98");
txt(25.7, 721, "Legend:", 6.5, "#333", { a: "start" });
txt(25.7, 728.7, "Saturated", 6.5, "#1a9a50", { a: "start" });
txt(25.7, 735.7, "Monounsaturated", 6.5, ORANGE, { a: "start" });
txt(25.7, 742.7, "PUFA", 6.5, PINK, { a: "start" });
txt(7, 770, '-log (<tspan font-style="italic">q</tspan>)', 8, "#222", { rot: -90 });
[[118, 760, "18:2"], [95, 771.7, "22:5 N6"], [120.7, 771.7, "22:6"], [109.5, 784, "20:4"]].forEach(p => txt(p[0], p[1], p[2], 8, PINK));
txt(36, 784, "17:0", 8, "#5ab55a");
ln(110, 771.7, 115, 776.5, PINK, 0.6);
[[234, 764, "20:4"], [254.5, 764, "20:5"], [228, 774, "20:3 N6"], [254.5, 777, "22:6"], [232.7, 798.3, "22:5 N3"]].forEach(p => txt(p[0], p[1], p[2], 8, PINK));
txt(254, 787.7, "18:1", 8, ORANGE);
[[299.5, 741, "18:2"], [305, 760.7, "18:3 N3"], [359, 750, "22:5 N3"], [384.5, 746, "20:5"], [381.8, 760.7, "20:3 N6"]].forEach(p => txt(p[0], p[1], p[2], 8, PINK));
txt(373, 780, "16:1", 8, ORANGE);
ln(241.5, 762, 251, 766, PINK, 0.6);
ln(241.5, 774, 250, 772, PINK, 0.6);
ln(36.7, 848.7, 185.7, 848.7, "#444", 1);
ln(231, 848.7, 380, 848.7, "#444", 1);
txt(208.5, 848, "Difference", 9, "#222");

// panel E: Venn
parts.push('<defs><radialGradient id="ball" cx="40%" cy="38%" r="65%"><stop offset="0" stop-color="#a8c8ec"/><stop offset="0.55" stop-color="#4f7fd0"/><stop offset="1" stop-color="#2a50a8"/></radialGradient>' +
  '<clipPath id="cPurple"><circle cx="540" cy="730" r="45.7"/></clipPath><clipPath id="cTeal"><circle cx="619" cy="730" r="45.7"/></clipPath></defs>');
parts.push('<circle cx="580.3" cy="799.3" r="45.7" fill="#fdf0f0"/>');
parts.push('<circle cx="540" cy="730" r="45.7" fill="#e4d9ea"/>');
parts.push('<circle cx="619" cy="730" r="45.7" fill="#e0f0ec"/>');
parts.push('<circle cx="619" cy="730" r="45.7" fill="#b8c6d4" clip-path="url(#cPurple)"/>');
parts.push('<circle cx="580.3" cy="799.3" r="45.7" fill="#dcbecb" clip-path="url(#cPurple)"/>');
parts.push('<circle cx="580.3" cy="799.3" r="45.7" fill="#e6d8d2" clip-path="url(#cTeal)"/>');
parts.push('<circle cx="540" cy="730" r="45.7" fill="none" stroke="#3a2455" stroke-width="1.1"/>');
parts.push('<circle cx="619" cy="730" r="45.7" fill="none" stroke="#1e9080" stroke-width="1.1"/>');
parts.push('<circle cx="580.3" cy="799.3" r="45.7" fill="none" stroke="#f27a80" stroke-width="1.1"/>');
[[531.7, 726.7, 485, 698.3], [580, 715, 580, 671.7], [628.3, 726.7, 665, 695], [605, 768.3, 668.3, 772.3], [556.7, 768.3, 520, 789.3], [573.3, 805, 520, 843.3]]
  .forEach(a => arrow(a[0], a[1], a[2], a[3], "#999", 1.5, 6));
[[540, 730, "2"], [579.3, 730, "2"], [619, 730, "1"], [560.7, 764, "1"], [599.3, 764.3, "3"], [580.7, 799.3, "2"]].forEach(n => txt(n[0], n[1], n[2], 9.5));
txt(456, 664.3, "Shared between", 7, "#222", { a: "start" });
txt(456, 672.3, "nAFP &amp; tAFP", 7, "#222", { a: "start" });
txt(533.3, 676.7, "OVA vs. nAFP", 8, "#4a3060");
txt(617.7, 676.7, "OVA vs. tAFP", 8, "#1e9080");
txt(580, 851.7, "nAFP vs. tAFP", 8, "#f07a84");
dashedBox(455, 681.7, 497.7, 695.7);
txt(476.3, 688.7, "22:5 N6", 8, "#ed2a3c");
dashedBox(455, 701.7, 481, 716);
txt(468, 708.8, "17:0", 8, "#00a651", { w: "bold" });
txt(456, 723, "Elevated", 7, "#222", { a: "start" });
txt(456, 731.7, "in OVA", 7, "#222", { a: "start" });
dashedBox(562.7, 640.7, 596.7, 666.7);
txt(579.7, 649.3, "22:6", 8.5, "#ed2a3c");
txt(579.7, 660, "20:4", 8.5, "#ed2a3c");
txt(600.7, 648, "Shared between", 7, "#222", { a: "start" });
txt(600.7, 656.7, "nAFP &amp; tAFP", 7, "#222", { a: "start" });
dashedBox(667.7, 678, 692.7, 692.7);
txt(680, 685.5, "18:1", 8.5, ORANGE);
txt(696, 685, "Present in media", 7.5, "#222", { a: "start" });
txt(720, 744, "Unique to tAFP", 7, "#222");
dashedBox(670, 751.7, 772, 849, 8);
[[764, "20:5"], [774, "Eicosapentaenoic acid"], [792.7, "20:3 N6"], [802.7, "Dihomo-\u03b3-linolenic acid"], [822.7, "22:5 N3"], [833.3, "Docosopentaenoic acid"]]
  .forEach(r => txt(676.7, r[0], r[1], 8.2, "#ed2a3c", { a: "start" }));
txt(442.3, 777.3, "Present in media", 7, "#222", { a: "start" });
dashedBox(431.7, 784, 517.3, 870.7, 8);
txt(513.3, 792.7, "18:2", 8.2, "#ed2a3c", { a: "end" });
txt(513.3, 802.7, "Linoleic acid", 8.2, "#ed2a3c", { a: "end" });
txt(509, 818.3, "18:3 N3", 8.2, "#ed2a3c", { a: "end" });
txt(509, 829, "\u03b1-Linolenic acid", 8.2, "#ed2a3c", { a: "end" });
txt(511.7, 844, "16:1", 8.2, ORANGE, { a: "end" });
txt(511.7, 855, "cis-9-palmitoleic acid", 8.2, ORANGE, { a: "end" });

document.getElementById("overlay").innerHTML = parts.join("");
</script>
</body>
</html>
